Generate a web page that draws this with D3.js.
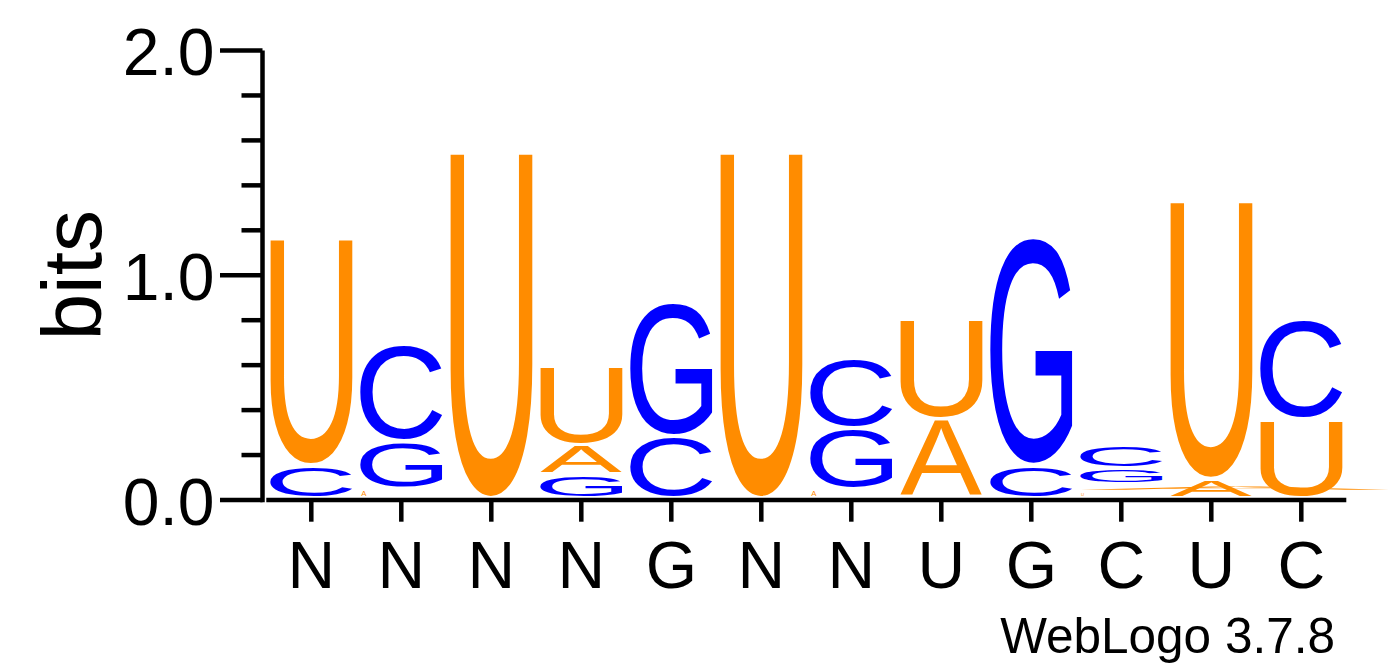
<!DOCTYPE html>
<html>
<head>
<meta charset="utf-8">
<script src="https://cdn.jsdelivr.net/npm/d3@7"></script>
<style>
  html, body { margin: 0; padding: 0; background: #fff; }
  svg { display: block; }
</style>
</head>
<body>
<svg id="chart" width="1392" height="667"></svg>
<script>
// ---- data (bits per letter at each position) ----
const positionLabels = ["N","N","N","N","G","N","N","U","G","C","U","C"];
const bitsA = [0,     0.040, 0,     0.132, 0,     0,     0.040, 0.349, 0,     0.032, 0.085, 0    ];
const bitsC = [0.146, 0.433, 0,     0,     0.275, 0,     0.312, 0,     0.148, 0.104, 0,     0.445];
const bitsG = [0,     0.212, 0,     0.104, 0.598, 0,     0.272, 0,     1.015, 0.071, 0,     0    ];
const bitsU = [1.012, 0,     1.541, 0.351, 0,     1.541, 0,     0.448, 0,     0.028, 1.239, 0.349];
const yMajorTicks = [0, 1, 2];
const yMajorLabels = ["0.0", "1.0", "2.0"];
const yMinorTicks = [0.2, 0.4, 0.6, 0.8, 1.2, 1.4, 1.6, 1.8];
const yAxisTitle = "bits";
const fineprint = "WebLogo 3.7.8";

const letterBits = { A: bitsA, C: bitsC, G: bitsG, U: bitsU };
const letterColor = { A: "#FF8C00", U: "#FF8C00", C: "#0000FF", G: "#0000FF" };

const svg = d3.select("#chart");
const W = 1392;

const x = d3.scaleBand().domain(d3.range(positionLabels.length)).range([266.3, 1346.3]).padding(0);
const y = d3.scaleLinear().domain([0, 2]).range([500, 50.5]);

// glyph ink measurement
const FS = 200;
const FONT = "Liberation Sans, Arial, Helvetica, sans-serif";
const ctx = document.createElement("canvas").getContext("2d");
ctx.font = FS + "px " + FONT;
const metricsCache = {};
function inkOf(ch) {
  if (!metricsCache[ch]) {
    const m = ctx.measureText(ch);
    metricsCache[ch] = {
      left: -m.actualBoundingBoxLeft,
      right: m.actualBoundingBoxRight,
      top: -m.actualBoundingBoxAscent,
      bottom: m.actualBoundingBoxDescent
    };
  }
  return metricsCache[ch];
}

function drawGlyph(g, ch, bx0, bx1, by0, by1, color) {
  const ink = inkOf(ch);
  const sx = (bx1 - bx0) / (ink.right - ink.left);
  const sy = (by1 - by0) / (ink.bottom - ink.top);
  const tx = bx0 - ink.left * sx;
  const ty = by0 - ink.top * sy;
  g.append("text")
    .attr("transform", `translate(${tx},${ty}) scale(${sx},${sy})`)
    .attr("font-family", FONT)
    .attr("font-size", FS)
    .attr("fill", color)
    .text(ch);
}

// stacks
const stacks = positionLabels.map((_, i) => {
  const items = Object.keys(letterBits)
    .map(l => ({ letter: l, v: letterBits[l][i] }))
    .filter(d => d.v > 0)
    .sort((a, b) => a.v - b.v);
  let cum = 0;
  items.forEach(d => { d.y0 = cum; cum += d.v; d.y1 = cum; });
  return items;
});

const logo = svg.append("g");
const letterHalfWidth = 41;
const gap = 4;
stacks.forEach((items, i) => {
  const cx = x(i) + x.bandwidth() / 2;
  items.forEach(d => {
    const top = y(d.y1);
    const bottom = y(d.y0) - gap;
    const h = bottom - top;
    let bx0 = cx - letterHalfWidth, bx1 = cx + letterHalfWidth;
    if (i === 9 && d.letter === "A") {
      // rendering artefact in the reference: near-empty glyph smeared to the right edge
      bx1 = W - 1;
    } else if (h < 7) {
      bx0 = bx0 + 1;
      bx1 = bx0 + Math.max(h, 2) * 1.05;
    }
    if (h > 0.5) drawGlyph(logo, d.letter, bx0, bx1, top, bottom, letterColor[d.letter]);
  });
});

// axes
const axisG = svg.append("g").attr("stroke", "#000").attr("stroke-width", 4.5);
axisG.append("line").attr("x1", 262.5).attr("x2", 262.5).attr("y1", y(2)).attr("y2", y(0) + 2.2);
axisG.selectAll(".ymaj").data(yMajorTicks).join("line")
  .attr("x1", 220).attr("x2", 262.5).attr("y1", d => y(d)).attr("y2", d => y(d));
axisG.selectAll(".ymin").data(yMinorTicks).join("line")
  .attr("x1", 241.5).attr("x2", 262.5).attr("y1", d => y(d)).attr("y2", d => y(d));
axisG.append("line").attr("x1", x.range()[0]).attr("x2", x.range()[1]).attr("y1", y(0)).attr("y2", y(0));
axisG.selectAll(".xt").data(positionLabels.map((_, i) => i)).join("line")
  .attr("x1", i => x(i) + x.bandwidth() / 2).attr("x2", i => x(i) + x.bandwidth() / 2)
  .attr("y1", y(0)).attr("y2", 521.7);

const LAB_FONT = "Liberation Sans, Arial, Helvetica, sans-serif";
svg.append("g").selectAll("text").data(yMajorTicks).join("text")
  .attr("x", 214.5).attr("y", d => y(d) + 24.5)
  .attr("text-anchor", "end")
  .attr("font-family", LAB_FONT).attr("font-size", 66)
  .text((d, i) => yMajorLabels[i]);

svg.append("g").selectAll("text").data(positionLabels).join("text")
  .attr("x", (d, i) => x(i) + x.bandwidth() / 2).attr("y", 588.3)
  .attr("text-anchor", "middle")
  .attr("font-family", LAB_FONT).attr("font-size", 66)
  .text(d => d);

svg.append("text")
  .attr("transform", `translate(100.7,${y(1)}) rotate(-90)`)
  .attr("text-anchor", "middle")
  .attr("font-family", LAB_FONT).attr("font-size", 84)
  .text(yAxisTitle);

svg.append("text")
  .attr("x", 1335).attr("y", 653.3)
  .attr("text-anchor", "end")
  .attr("font-family", LAB_FONT).attr("font-size", 49.5)
  .text(fineprint);
</script>
</body>
</html>
